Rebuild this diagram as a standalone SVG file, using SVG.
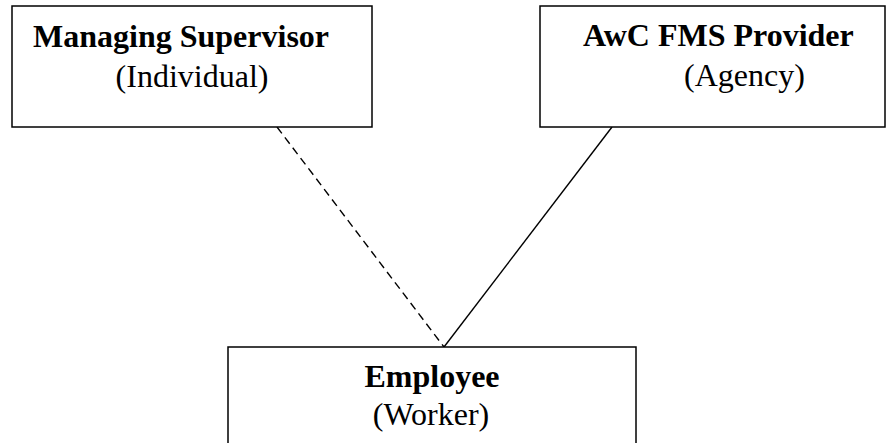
<svg xmlns="http://www.w3.org/2000/svg" width="891" height="443" viewBox="0 0 891 443">
<style>
.box{fill:#fff;stroke:#000;stroke-width:1.5}
.t{font-family:"Liberation Serif","Times New Roman",serif;font-size:32px;fill:#000}
.b{font-weight:bold}
.c{fill:none;stroke:#000;stroke-width:1.4}
.d{stroke-dasharray:8 5}
</style>
<rect width="891" height="443" fill="#fff"/>
<g id="connectors">
<line class="c d" x1="277" y1="127" x2="444" y2="347"/>
<line class="c" x1="612" y1="127" x2="444" y2="347"/>
</g>
<g id="managing-supervisor">
<rect class="box" x="12" y="6" width="360" height="121"/>
<text class="t b" x="33" y="47">Managing Supervisor</text>
<text class="t" x="192" y="87" text-anchor="middle">(Individual)</text>
</g>
<g id="awc-fms-provider">
<rect class="box" x="540" y="6" width="345" height="121"/>
<text class="t b" x="583" y="46">AwC FMS Provider</text>
<text class="t" x="744.5" y="86" text-anchor="middle">(Agency)</text>
</g>
<g id="employee">
<rect class="box" x="228" y="347" width="408" height="120"/>
<text class="t b" x="432" y="387" text-anchor="middle">Employee</text>
<text class="t" x="431" y="425" text-anchor="middle">(Worker)</text>
</g>
</svg>
